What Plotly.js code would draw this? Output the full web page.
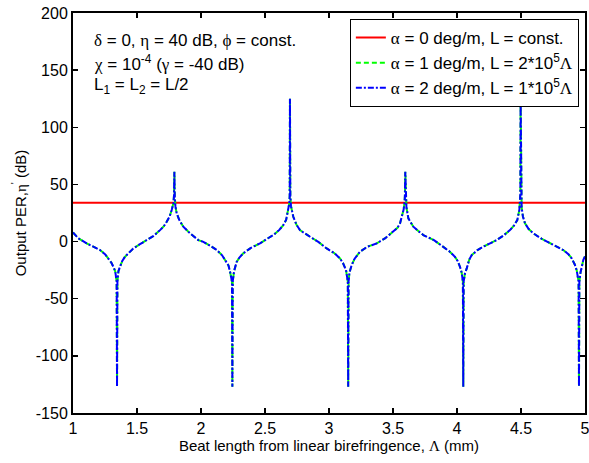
<!DOCTYPE html>
<html>
<head>
<meta charset="utf-8">
<script src="https://cdn.plot.ly/plotly-3.0.1.min.js"></script>
<style>body{margin:0;padding:0;background:#fff;}#chart{width:589px;height:463px;}</style>
</head>
<body>
<div id="chart"></div>
<script>
// Beat length (mm)
var beatLength = [
  1.000, 1.040, 1.107, 1.160, 1.211, 1.250, 1.276, 1.300, 1.315, 1.330, 1.341, 1.344,
  1.347, 1.355, 1.367, 1.385, 1.406, 1.440, 1.471, 1.520, 1.576, 1.630, 1.680, 1.710, 1.732, 1.755, 1.771, 1.784, 1.789, 1.792,
  1.795, 1.800, 1.810, 1.830, 1.862, 1.914, 1.979, 2.018, 2.070, 2.123, 2.165, 2.200, 2.215, 2.227, 2.242, 2.245,
  2.248, 2.258, 2.279, 2.300, 2.330, 2.390, 2.461, 2.510, 2.565, 2.610, 2.643, 2.665, 2.677, 2.690, 2.693, 2.695,
  2.698, 2.703, 2.721, 2.745, 2.773, 2.852, 2.916, 2.982, 3.040, 3.086, 3.110, 3.133, 3.147, 3.150,
  3.153, 3.160, 3.177, 3.200, 3.242, 3.300, 3.373, 3.440, 3.502, 3.535, 3.555, 3.572, 3.583, 3.590, 3.593, 3.596,
  3.599, 3.605, 3.620, 3.659, 3.700, 3.737, 3.820, 3.854, 3.893, 3.940, 3.984, 4.005, 4.023, 4.036, 4.046, 4.049,
  4.052, 4.062, 4.076, 4.095, 4.115, 4.160, 4.205, 4.260, 4.310, 4.360, 4.414, 4.445, 4.471, 4.487, 4.493, 4.495, 4.497,
  4.500, 4.505, 4.515, 4.531, 4.560, 4.596, 4.660, 4.727, 4.780, 4.830, 4.870, 4.896, 4.920, 4.935, 4.950, 4.953,
  4.956, 4.965, 4.987, 5.000
];
// Output PER (dB), alpha = 1 deg/m and alpha = 2 deg/m (curves coincide)
var perAlpha1 = [
  8, 3, -1.6, -4.5, -7.4, -11, -14.7, -18.5, -22, -26, -35, -127,
  -35, -26, -22, -17, -13.3, -9, -6, -2.5, 1.3, 5, 10, 13.5, 17.3, 22, 27.6, 33.4, 40, 61,
  40, 31, 24.7, 19, 13, 7.2, 1.3, -0.2, -3.5, -7.4, -12, -17.7, -21, -26.4, -35, -127,
  -35, -26, -17.7, -14, -10.3, -5.5, -1.6, 2, 5.7, 10, 14.4, 19, 24.7, 33.4, 40, 125,
  40, 31, 21.7, 15, 10, 4.2, -0.2, -6, -10, -14.7, -19, -25, -35, -127,
  -35, -27, -20.6, -15, -8.9, -4.5, -1.6, 3, 8.6, 12, 16, 22, 28, 34, 40, 61,
  40, 30, 20.3, 13, 9, 5.7, 1.3, -1.6, -4.5, -8.5, -13.3, -17, -22, -27, -35, -127,
  -35, -28, -23.5, -16, -11.8, -7.5, -4.5, -1.5, 1.3, 5, 10, 14, 18.8, 27.6, 35, 42, 125,
  42, 30, 22, 16, 11, 7.2, 2.5, -1.6, -4.5, -7.4, -11, -14.7, -20, -25, -35, -127,
  -35, -27, -16, -13
];
var perAlpha2 = perAlpha1.slice();
// alpha = 0 : constant output PER
var constX = [1, 5];
var perAlpha0 = [34, 34];

// tick labels
var xTickVals = [1, 1.5, 2, 2.5, 3, 3.5, 4, 4.5, 5];
var xTickText = ['1', '1.5', '2', '2.5', '3', '3.5', '4', '4.5', '5'];
var yTickVals = [-150, -100, -50, 0, 50, 100, 150, 200];
var yTickText = ['-150', '-100', '-50', '0', '50', '100', '150', '200'];

var G = function (c) { return '<span style="font-family:Liberation Serif, DejaVu Serif">' + c + '</span>'; };
var legendNames = [
  G('α') + ' = 0 deg/m, L = const.',
  G('α') + ' = 1 deg/m, L = 2*10<sup>5</sup>' + G('Λ'),
  G('α') + ' = 2 deg/m, L = 1*10<sup>5</sup>' + G('Λ')
];
var noteLines = [
  G('δ') + ' = 0, ' + G('η') + ' = 40 dB, ' + G('ϕ') + ' = const.',
  G('χ') + ' = 10<sup>-4</sup> (' + G('γ') + ' = -40 dB)',
  'L<sub>1</sub> = L<sub>2</sub> = L/2'
];
var noteY = [0.9325, 0.874, 0.818];

var traces = [
  {x: constX, y: perAlpha0, type: 'scatter', mode: 'lines', name: legendNames[0],
   line: {color: '#ff0000', width: 2}},
  {x: beatLength, y: perAlpha1, type: 'scatter', mode: 'lines', name: legendNames[1],
   line: {color: '#00ff00', width: 2, dash: '5px,3px'}},
  {x: beatLength, y: perAlpha2, type: 'scatter', mode: 'lines', name: legendNames[2],
   line: {color: '#0000ff', width: 2, dash: '6px,2px,2px,2px'}}
];

var fam = 'Liberation Sans, Arial, sans-serif';
var tickFont = {family: fam, size: 16, color: '#000'};
var titleFont = {family: fam, size: 15, color: '#000'};
var annotations = noteLines.map(function (t, i) {
  return {text: t, xref: 'paper', yref: 'paper', x: 0.037, y: noteY[i], xanchor: 'left', yanchor: 'middle',
          showarrow: false, font: {family: fam, size: 17, color: '#000'}};
});

var axisCommon = {
  showgrid: false, zeroline: false, showline: true, linecolor: '#000', linewidth: 2,
  mirror: 'ticks', ticks: 'inside', ticklen: 5, tickwidth: 1.5, tickcolor: '#000',
  tickfont: tickFont, tickmode: 'array', ticklabeloverflow: 'allow'
};

var layout = {
  width: 589, height: 463,
  margin: {l: 73, r: 4, t: 13, b: 50},
  paper_bgcolor: '#fff', plot_bgcolor: '#fff',
  font: tickFont,
  xaxis: Object.assign({}, axisCommon, {
    range: [1, 5], tickvals: xTickVals, ticktext: xTickText,
    title: {text: 'Beat length from linear birefringence, ' + G('Λ') + ' (mm)', font: titleFont, standoff: 2}
  }),
  yaxis: Object.assign({}, axisCommon, {
    range: [-150, 200], tickvals: yTickVals, ticktext: yTickText,
    title: {text: 'Output PER,' + G('η') + '<sup>\'</sup> (dB)', font: titleFont, standoff: 6}
  }),
  showlegend: true,
  legend: {x: 0.988, xanchor: 'right', y: 0.985, yanchor: 'top', bgcolor: '#fff',
           bordercolor: '#000', borderwidth: 1, font: {family: fam, size: 17, color: '#000'}},
  annotations: annotations
};

Plotly.newPlot('chart', traces, layout, {displayModeBar: false, staticPlot: true});
</script>
</body>
</html>
